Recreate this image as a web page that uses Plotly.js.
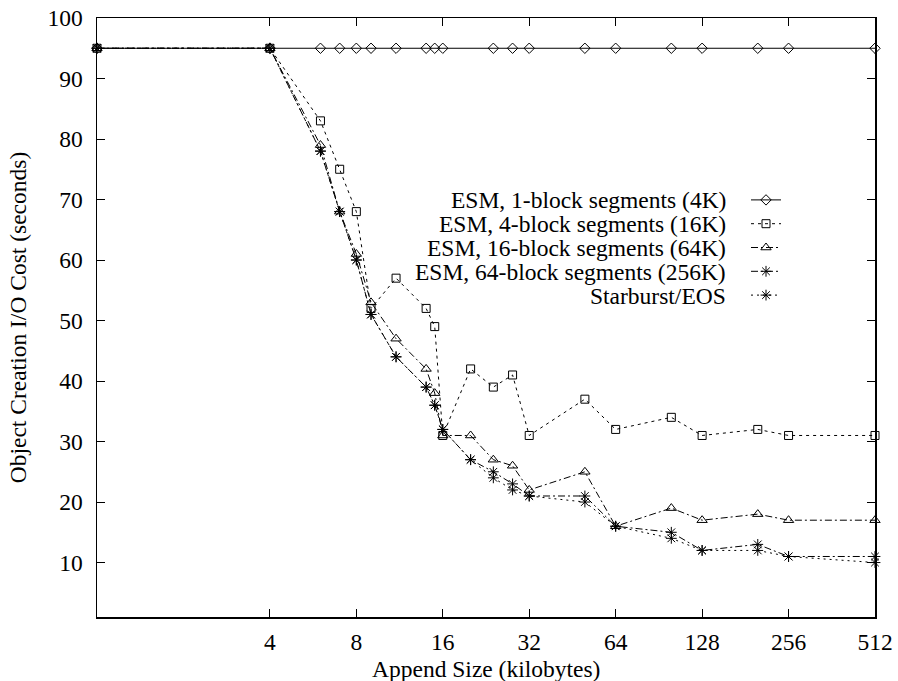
<!DOCTYPE html>
<html>
<head>
<meta charset="utf-8">
<script src="https://cdn.plot.ly/plotly-3.0.1.min.js"></script>
<style>
  html, body { margin: 0; padding: 0; background: #fff; }
  #chart { width: 898px; height: 681px; }
</style>
</head>
<body>
<div id="chart"></div>
<script>
// ---- data ----
const seriesNames = [
  "ESM, 1-block segments (4K)",
  "ESM, 4-block segments (16K)",
  "ESM, 16-block segments (64K)",
  "ESM, 64-block segments (256K)",
  "Starburst/EOS"
];
const xOneBlock = [1, 4, 6, 7, 8, 9, 11, 14, 15, 16, 24, 28, 32, 50, 64, 100, 128, 200, 256, 512];
const yOneBlock = [95, 95, 95, 95, 95, 95, 95, 95, 95, 95, 95, 95, 95, 95, 95, 95, 95, 95, 95, 95];
const xAppend = [1, 4, 6, 7, 8, 9, 11, 14, 15, 16, 20, 24, 28, 32, 50, 64, 100, 128, 200, 256, 512];
const yFourBlock = [95, 95, 83, 75, 68, 52, 57, 52, 49, 31, 42, 39, 41, 31, 37, 32, 34, 31, 32, 31, 31];
const ySixteenBlock = [95, 95, 79, 68, 61, 53, 47, 42, 38, 31, 31, 27, 26, 22, 25, 16, 19, 17, 18, 17, 17];
const ySixtyFourBlock = [95, 95, 78, 68, 60, 51, 44, 39, 36, 32, 27, 25, 23, 21, 21, 16, 15, 12, 13, 11, 11];
const yStarburst = [95, 95, 78, 68, 60, 51, 44, 39, 36, 32, 27, 24, 22, 21, 20, 16, 14, 12, 12, 11, 10];
const xTickVals = [4, 8, 16, 32, 64, 128, 256, 512];
const xTickText = ["4", "8", "16", "32", "64", "128", "256", "512"];
const yTickVals = [10, 20, 30, 40, 50, 60, 70, 80, 90, 100];
const xTitle = "Append Size (kilobytes)";
const yTitle = "Object Creation I/O Cost (seconds)";

// ---- styling ----
const FONT = "'Liberation Serif', 'Times New Roman', serif";
const FS = 23.5;
const black = "#000";
function tr(x, y, symbol, dash, size) {
  return {
    x: x, y: y, type: "scatter", mode: "lines+markers",
    name: " ",
    cliponaxis: false,
    line: { color: black, width: 1, dash: dash },
    marker: { symbol: symbol, size: size, color: black, line: { color: black, width: 1 } }
  };
}
const traces = [
  tr(xOneBlock, yOneBlock, "diamond-open", "solid", 8),
  tr(xAppend, yFourBlock, "square-open", "3px,4px", 8),
  tr(xAppend, ySixteenBlock, "triangle-up-open", "7px,3px,2px,3px", 9),
  tr(xAppend, ySixtyFourBlock, "asterisk-open", "7px,3px,2px,3px", 9),
  tr(xAppend, yStarburst, "asterisk-open", "2px,4px", 9)
];
traces.forEach((t, i) => { t.hovertemplate = seriesNames[i] + ": %{x}, %{y}<extra></extra>"; });

// plot area in pixels
const W = 898, H = 681;
const L = 97, R = 875, T = 18, B = 617;
const plotH = B - T, plotW = R - L;
const legendRowsPx = [200, 224, 248, 272, 296];
const textRightPx = 728;
const annotations = seriesNames.map((n, i) => ({
  text: n, xref: "paper", yref: "paper",
  x: (textRightPx - L) / plotW, y: (B - legendRowsPx[i]) / plotH,
  xanchor: "right", yanchor: "middle", showarrow: false,
  font: { family: FONT, size: FS, color: black }
}));
annotations.push({
  text: xTitle, xref: "paper", yref: "paper",
  x: 0.5, y: (B - 669) / plotH, xanchor: "center", yanchor: "middle",
  showarrow: false, font: { family: FONT, size: FS, color: black }
});

const axisCommon = {
  showgrid: false, zeroline: false, showline: true, linecolor: black, linewidth: 1.5,
  mirror: "ticks", ticks: "inside", ticklen: 8, tickwidth: 1, tickcolor: black,
  tickfont: { family: FONT, size: FS, color: black }
};

const layout = {
  width: W, height: H,
  margin: { l: L, r: W - R, t: T, b: H - B },
  paper_bgcolor: "#fff", plot_bgcolor: "#fff",
  font: { family: FONT, color: black },
  showlegend: true,
  legend: {
    x: (746 - L) / plotW, xanchor: "left",
    y: (B - 183) / plotH, yanchor: "top",
    bgcolor: "rgba(0,0,0,0)", borderwidth: 0,
    font: { family: FONT, size: 16, color: black },
    tracegroupgap: 0
  },
  xaxis: Object.assign({}, axisCommon, {
    type: "log", range: [0, Math.log10(512)],
    tickmode: "array", tickvals: xTickVals, ticktext: xTickText,
    ticklabelstandoff: 3
  }),
  yaxis: Object.assign({}, axisCommon, {
    range: [1, 100],
    tickmode: "array", tickvals: yTickVals,
    ticklabelstandoff: 8,
    title: { text: yTitle, font: { family: FONT, size: FS, color: black }, standoff: 14 }
  }),
  annotations: annotations
};

Plotly.newPlot("chart", traces, layout, { displayModeBar: false, staticPlot: true });
</script>
</body>
</html>
